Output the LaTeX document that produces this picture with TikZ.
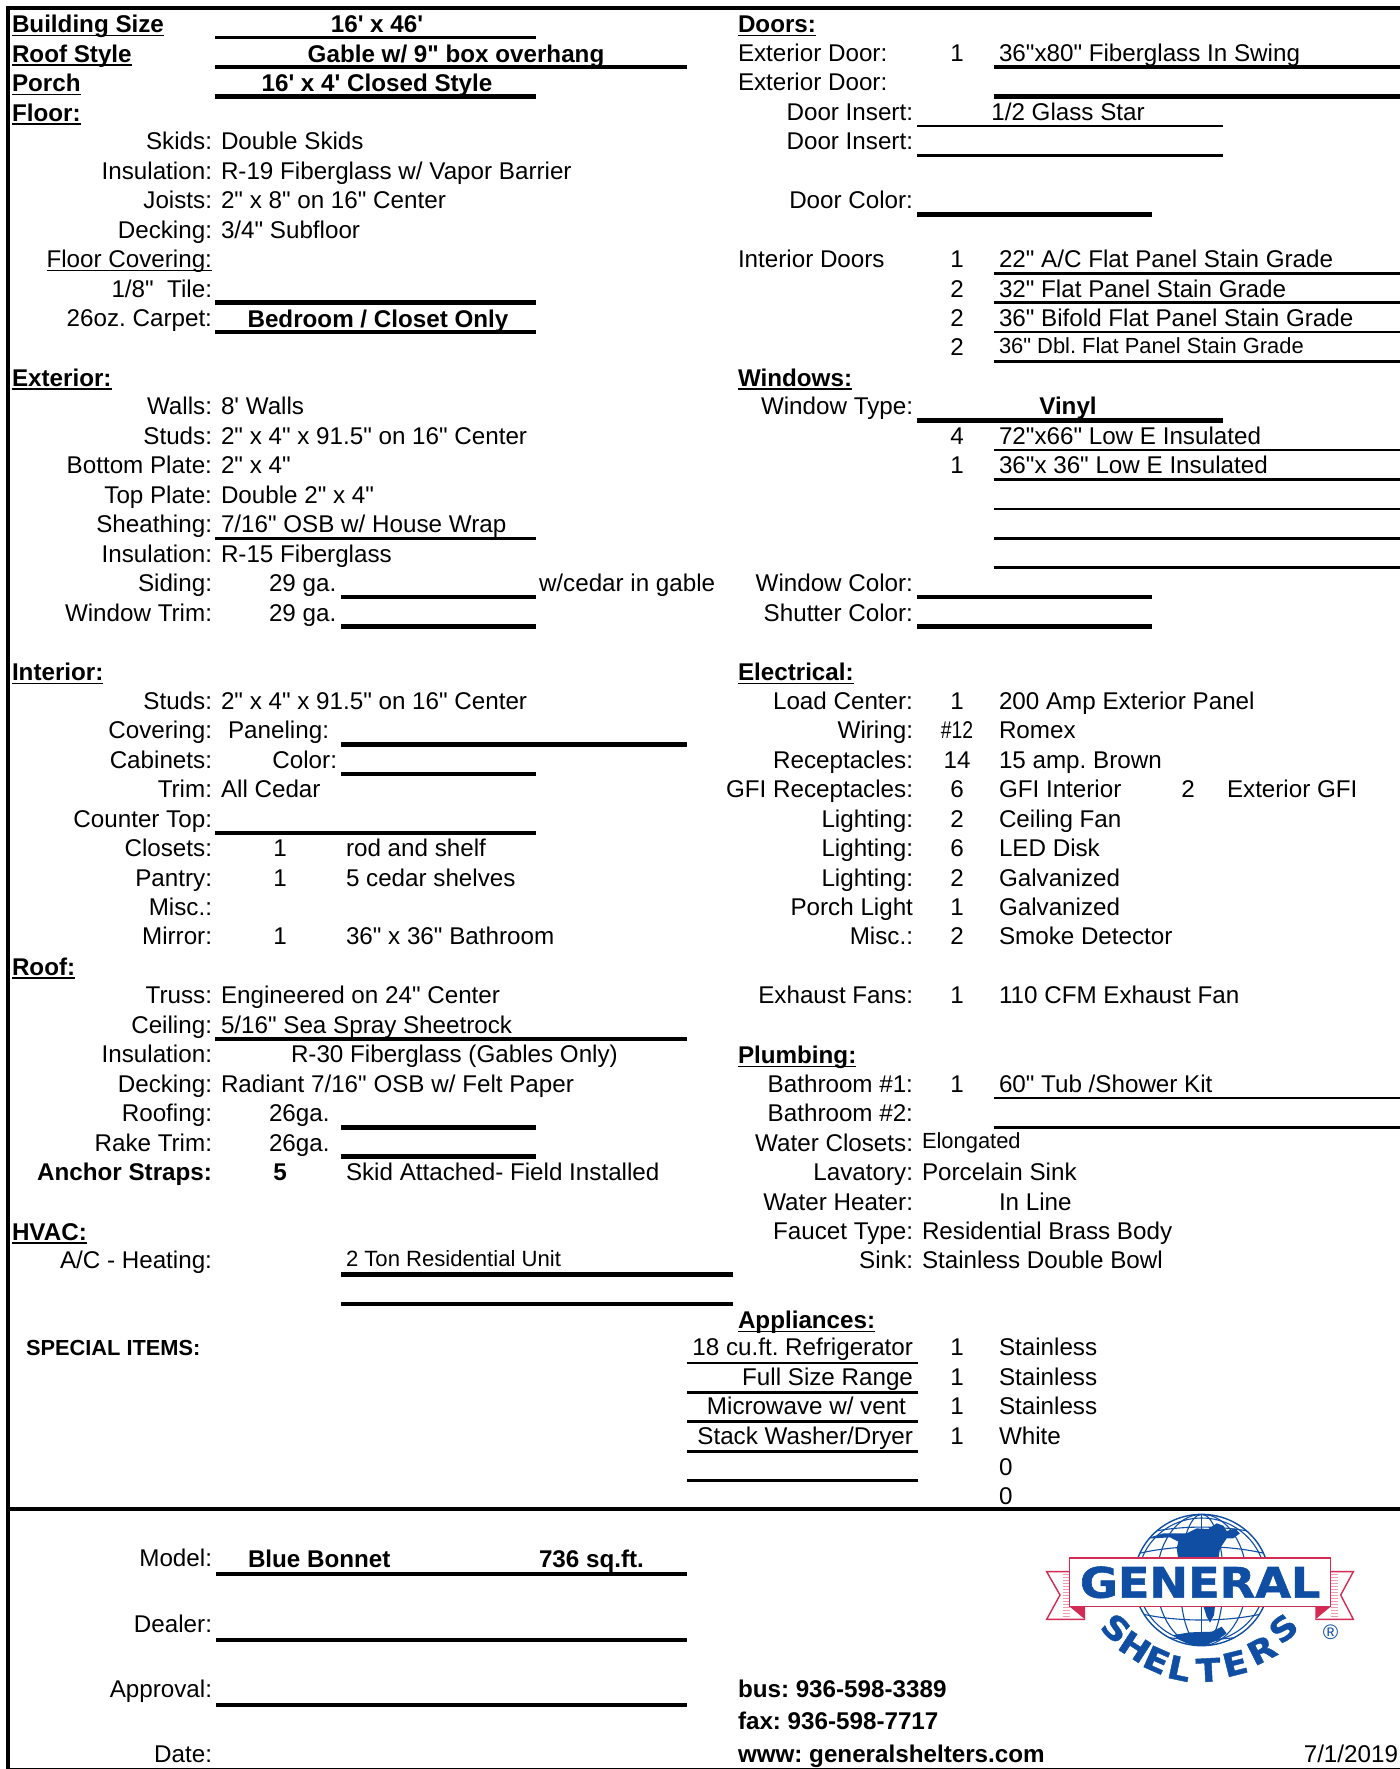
\documentclass[tikz,border=0pt]{standalone}
\usepackage{fontspec}
\usepackage{graphicx}
\newfontfamily\rf{Liberation Sans}
\newfontfamily\lf{DejaVu Sans}[BoldFeatures={FakeBold=1.3}]
\newcounter{tn}
\definecolor{gblue}{HTML}{0F4EA3}
\definecolor{gred}{HTML}{D42B55}
\definecolor{gpink}{HTML}{EE9DB0}
\newcommand\und[1]{\setbox0\hbox{#1}\rlap{\rule[-1.7pt]{\wd0}{0.75pt}}\box0}
\newcommand\Y[1]{{32.0+29.45*#1}}
\newcommand\YB[1]{{32.9+29.45*#1}}
\newcommand\LY[1]{{37.6+29.45*#1}}
% left anchored, right anchored, centred text by row
\newcommand\tL[3]{\stepcounter{tn}\node[txt,anchor=base west] (t\thetn) at (#1,\Y{#2}) {#3};}
\newcommand\tR[3]{\stepcounter{tn}\node[txt,anchor=base east] (t\thetn) at (#1,\Y{#2}) {#3};}
\newcommand\tC[3]{\stepcounter{tn}\node[txt,anchor=base] (t\thetn) at (#1,\Y{#2}) {#3};}
\newcommand\tBC[3]{\stepcounter{tn}\node[txt,anchor=base] (t\thetn) at (#1,\YB{#2}) {\bfseries #3};}
\newcommand\tS[3]{\stepcounter{tn}\node[txt,small,anchor=base west] (t\thetn) at (#1,{29.8+29.45*#2}) {#3};}
\newcommand\tA[3]{\stepcounter{tn}\node[txt,anchor=base west] (t\thetn) at (#1,#2) {#3};}
\newcommand\tB[3]{\stepcounter{tn}\node[txt,anchor=base east] (t\thetn) at (#1,#2) {#3};}
\newcommand\La[2]{\tR{212}{#1}{#2}}
\newcommand\Lb[2]{\tR{913}{#1}{#2}}
\newcommand\Lv[2]{\tL{221}{#1}{#2}}
\newcommand\Rn[2]{\tC{957}{#1}{#2}}
\newcommand\Rv[2]{\tL{999}{#1}{#2}}
\newcommand\Head[3]{\stepcounter{tn}\node[txt,anchor=base west] (t\thetn) at (#1,\YB{#2}) {\bfseries\und{#3}};}
% appliance rows sit a little higher
\newcommand\tAp[3]{\stepcounter{tn}\node[txt,anchor=#1] (t\thetn) at (#2,{30.6+29.45*45+29.45*#3}) }
\newcommand\HL[4][thickrule]{\coordinate (pa) at (#2,\LY{#4});\coordinate (pb) at (#3,\LY{#4});\draw[#1] (pa) -- (pb);}
\tikzset{txt/.style={inner sep=0pt,outer sep=0pt,font=\rf\fontsize{12.1pt}{14pt}\selectfont\frenchspacing,text=black},
 thickrule/.style={line width=2.25pt,black},
 thinrule/.style={line width=1.3pt,black},
 frame/.style={line width=2.3pt,black},
 hairframe/.style={line width=0.6pt,black},
 small/.style={font=\rf\fontsize{10.95pt}{12pt}\selectfont\frenchspacing},
 logo/.style={gblue,inner sep=0pt,font=\lf\bfseries\fontsize{16pt}{18pt}\selectfont},
 gline/.style={draw=gblue,line width=0.55pt}}
\begin{document}
\begin{tikzpicture}[x=0.5pt,y=-0.5pt]
\useasboundingbox (0,0) rectangle (1400,1769);
\fill[white] (0,0) rectangle (1400,1769);
% frame
\coordinate (fa) at (6,8);\coordinate (fb) at (1400,8);\coordinate (fc) at (8,1769);
\coordinate (fd) at (8,1509);\coordinate (fe) at (1400,1509);\coordinate (ff) at (8,6);
\coordinate (fg) at (8,1768.3);\coordinate (fh) at (1400,1768.3);
\draw[frame] (fa) -- (fb);
\draw[frame] (ff) -- (fc);
\draw[frame] (fd) -- (fe);
\draw[hairframe] (fg) -- (fh);
% rules left
\HL[thinrule]{215}{536}{0}
\HL{215}{687}{1}
\HL{215}{536}{2}
\HL{215}{536}{9}
\HL{215}{536}{10}
\HL[thinrule]{215}{536}{17}
\HL{341}{536}{19}
\HL{341}{536}{20}
\HL{341}{687}{24}
\HL{341}{536}{25}
\HL{215}{536}{27}
\HL{215}{687}{34}
\HL{341}{536}{37}
\HL{341}{536}{38}
\HL{341}{733}{42}
\HL{341}{733}{43}
% rules right
\HL{994}{1400}{1}
\HL{994}{1400}{2}
\HL[thinrule]{917}{1223}{3}
\HL[thinrule]{917}{1223}{4}
\HL{917}{1152}{6}
\HL[thinrule]{994}{1400}{8}
\HL[thinrule]{994}{1400}{9}
\HL[thinrule]{994}{1400}{10}
\HL[thinrule]{994}{1400}{11}
\HL{917}{1223}{13}
\HL[thinrule]{994}{1400}{14}
\HL[thinrule]{994}{1400}{15}
\HL[thinrule]{994}{1400}{16}
\HL[thinrule]{994}{1400}{17}
\HL[thinrule]{994}{1400}{18}
\HL{917}{1152}{19}
\HL{917}{1152}{20}
\HL[thinrule]{994}{1400}{36}
\HL[thinrule]{994}{1400}{37}
\HL[thinrule]{687}{918}{45}
\HL[thinrule]{687}{918}{46}
\HL[thinrule]{687}{918}{47}
\HL[thinrule]{687}{918}{48}
\HL[thinrule]{687}{918}{49}
% bottom rules
\coordinate (ma) at (216,1574);\coordinate (mb) at (687,1574);\draw[thickrule] (ma) -- (mb);
\coordinate (da) at (216,1640);\coordinate (db) at (687,1640);\draw[thickrule] (da) -- (db);
\coordinate (aa) at (216,1705);\coordinate (ab) at (687,1705);\draw[thickrule] (aa) -- (ab);
% left column
\Head{12}{0}{Building Size}\tBC{377}{0}{16' x 46'}
\Head{12}{1}{Roof Style}\tBC{456}{1}{Gable w/ 9" box overhang}
\Head{12}{2}{Porch}\tBC{377}{2}{16' x 4' Closed Style}
\Head{12}{3}{Floor:}
\La{4}{Skids:}\Lv{4}{Double Skids}
\La{5}{Insulation:}\Lv{5}{R-19 Fiberglass w/ Vapor Barrier}
\La{6}{Joists:}\Lv{6}{2" x 8" on 16" Center}
\La{7}{Decking:}\Lv{7}{3/4" Subfloor}
\La{8}{\und{Floor Covering:}}
\La{9}{1/8"\ \ Tile:}
\La{10}{26oz. Carpet:}\tBC{378}{10}{Bedroom / Closet Only}
\Head{12}{12}{Exterior:}
\La{13}{Walls:}\Lv{13}{8' Walls}
\La{14}{Studs:}\Lv{14}{2" x 4" x 91.5" on 16" Center}
\La{15}{Bottom Plate:}\Lv{15}{2" x 4"}
\La{16}{Top Plate:}\Lv{16}{Double 2" x 4"}
\La{17}{Sheathing:}\Lv{17}{7/16" OSB w/ House Wrap}
\La{18}{Insulation:}\Lv{18}{R-15 Fiberglass}
\La{19}{Siding:}\tL{269}{19}{29 ga.}\tL{539}{19}{w/cedar in gable}
\La{20}{Window Trim:}\tL{269}{20}{29 ga.}
\Head{12}{22}{Interior:}
\La{23}{Studs:}\Lv{23}{2" x 4" x 91.5" on 16" Center}
\La{24}{Covering:}\tR{329}{24}{Paneling:}
\La{25}{Cabinets:}\tR{337}{25}{Color:}
\La{26}{Trim:}\Lv{26}{All Cedar}
\La{27}{Counter Top:}
\La{28}{Closets:}\tC{280}{28}{1}\tL{346}{28}{rod and shelf}
\La{29}{Pantry:}\tC{280}{29}{1}\tL{346}{29}{5 cedar shelves}
\La{30}{Misc.:}
\La{31}{Mirror:}\tC{280}{31}{1}\tL{346}{31}{36" x 36" Bathroom}
\Head{12}{32}{Roof:}
\La{33}{Truss:}\Lv{33}{Engineered on 24" Center}
\La{34}{Ceiling:}\Lv{34}{5/16" Sea Spray Sheetrock}
\La{35}{Insulation:}\tL{291}{35}{R-30 Fiberglass (Gables Only)}
\La{36}{Decking:}\Lv{36}{Radiant 7/16" OSB w/ Felt Paper}
\La{37}{Roofing:}\tL{269}{37}{26ga.}
\La{38}{Rake Trim:}\tL{269}{38}{26ga.}
\La{39}{\bfseries Anchor Straps:}\tC{280}{39}{\bfseries 5}\tL{346}{39}{Skid Attached- Field Installed}
\Head{12}{41}{HVAC:}
\La{42}{A/C - Heating:}\stepcounter{tn}\node[txt,anchor=base west,font=\rf\fontsize{11.05pt}{12pt}\selectfont] (t\thetn) at (346,{29.8+29.45*42}) {2 Ton Residential Unit};
\stepcounter{tn}\node[txt,anchor=base west,font=\rf\bfseries\fontsize{10.9pt}{12pt}\selectfont] (t\thetn) at (26,{29.8+29.45*45}) {SPECIAL ITEMS:};
% right column
\Head{738}{0}{Doors:}
\tL{738}{1}{Exterior Door:}\Rn{1}{1}\Rv{1}{36"x80" Fiberglass In Swing}
\tL{738}{2}{Exterior Door:}
\Lb{3}{Door Insert:}\tC{1068}{3}{1/2 Glass Star}
\Lb{4}{Door Insert:}
\Lb{6}{Door Color:}
\tL{738}{8}{Interior Doors}\Rn{8}{1}\Rv{8}{22" A/C Flat Panel Stain Grade}
\Rn{9}{2}\Rv{9}{32" Flat Panel Stain Grade}
\Rn{10}{2}\Rv{10}{36" Bifold Flat Panel Stain Grade}
\Rn{11}{2}\tS{999}{11}{36" Dbl. Flat Panel Stain Grade}
\Head{738}{12}{Windows:}
\Lb{13}{Window Type:}\tC{1068}{13}{\bfseries Vinyl}
\Rn{14}{4}\Rv{14}{72"x66" Low E Insulated}
\Rn{15}{1}\Rv{15}{36"x 36" Low E Insulated}
\Lb{19}{Window Color:}
\Lb{20}{Shutter Color:}
\Head{738}{22}{Electrical:}
\Lb{23}{Load Center:}\Rn{23}{1}\Rv{23}{200 Amp Exterior Panel}
\Lb{24}{Wiring:}\Rn{24}{\scalebox{0.8}[1]{\#12}}\Rv{24}{Romex}
\Lb{25}{Receptacles:}\Rn{25}{14}\Rv{25}{15 amp. Brown}
\Lb{26}{GFI Receptacles:}\Rn{26}{6}\Rv{26}{GFI Interior}\tC{1188}{26}{2}\tL{1227}{26}{Exterior GFI}
\Lb{27}{Lighting:}\Rn{27}{2}\Rv{27}{Ceiling Fan}
\Lb{28}{Lighting:}\Rn{28}{6}\Rv{28}{LED Disk}
\Lb{29}{Lighting:}\Rn{29}{2}\Rv{29}{Galvanized}
\Lb{30}{Porch Light}\Rn{30}{1}\Rv{30}{Galvanized}
\Lb{31}{Misc.:}\Rn{31}{2}\Rv{31}{Smoke Detector}
\Lb{33}{Exhaust Fans:}\Rn{33}{1}\Rv{33}{110 CFM Exhaust Fan}
\Head{738}{35}{Plumbing:}
\Lb{36}{Bathroom \#1:}\Rn{36}{1}\Rv{36}{60" Tub /Shower Kit}
\Lb{37}{Bathroom \#2:}
\Lb{38}{Water Closets:}\tS{922}{38}{Elongated}
\Lb{39}{Lavatory:}\tL{922}{39}{Porcelain Sink}
\Lb{40}{Water Heater:}\Rv{40}{In Line}
\Lb{41}{Faucet Type:}\tL{922}{41}{Residential Brass Body}
\Lb{42}{Sink:}\tL{922}{42}{Stainless Double Bowl}
\Head{738}{44}{Appliances:}
\tAp{base east}{913}{0}{18 cu.ft. Refrigerator};\tAp{base}{957}{0}{1};\tAp{base west}{999}{0}{Stainless};
\tAp{base east}{913}{1}{Full Size Range};\tAp{base}{957}{1}{1};\tAp{base west}{999}{1}{Stainless};
\tAp{base east}{906}{2}{Microwave w/ vent};\tAp{base}{957}{2}{1};\tAp{base west}{999}{2}{Stainless};
\tAp{base east}{913}{3}{Stack Washer/Dryer};\tAp{base}{957}{3}{1};\tAp{base west}{999}{3}{White};
\Rv{49}{0}
\Rv{50}{0}
% bottom block
\tB{212}{1566}{Model:}
\tA{248}{1567}{\bfseries Blue Bonnet}
\tA{539}{1567}{\bfseries 736 sq.ft.}
\tB{212}{1632}{Dealer:}
\tB{212}{1697}{Approval:}
\tB{212}{1762}{Date:}
\tA{738}{1697}{\bfseries bus: 936-598-3389}
\tA{738}{1729}{\bfseries fax: 936-598-7717}
\tA{738}{1762}{\bfseries www: generalshelters.com}
\tB{1398}{1762}{7/1/2019}
% logo, in a local frame of 3 units per pixel
\begin{scope}[shift={(1020,1500)},x=0.16667pt,y=-0.16667pt]
 % ribbons
 \foreach \yy in {222,231,...,350}{
  \draw[gpink,line width=0.45pt] (128,\yy) -- (149,\yy);
  \draw[gpink,line width=0.45pt] (932,\yy) -- (954,\yy);}
 \draw[gred,line width=0.7pt] (149,215) -- (80,215) -- (120,285) -- (80,358) -- (195,358);
 \draw[gred,line width=0.7pt] (932,215) -- (1000,215) -- (962,285) -- (1000,358) -- (886,358);
 \fill[gred] (149,320) -- (195,320) -- (195,358) -- cycle;
 \fill[gred] (932,320) -- (886,320) -- (886,358) -- cycle;
 % globe
 \begin{scope}
  \clip (545,240) ellipse (203 and 197);
  \draw[gline] (545,240) ellipse (65 and 197);
  \draw[gline] (545,240) ellipse (135 and 197);
  \draw[gline] (545,43) -- (545,438);
  \foreach \a/\b in {170/-40,115/-45,330/40,385/45}{
   \draw[gline] (320,\a) .. controls (450,{\a+\b}) and (640,{\a+\b}) .. (770,\a);}
  \fill[gblue] (380,115) -- (430,100) -- (465,100) -- (500,100) -- (530,85) -- (565,87) -- (590,70) -- (610,77) -- (620,93) -- (645,85) -- (660,100) -- (640,115) -- (620,115) -- (600,145) -- (595,178) -- (475,178) -- (470,145) -- (475,125) -- (450,112) -- (400,115) -- cycle;
  \fill[gblue] (550,318) -- (585,318) -- (582,345) -- (570,368) -- (560,350) -- cycle;
  \fill[gblue] (460,405) -- (510,397) -- (575,395) -- (605,380) -- (620,400) -- (595,418) -- (550,440) -- (500,430) -- (475,418) -- cycle;
 \end{scope}
 \draw[gline,line width=0.7pt] (545,240) ellipse (203 and 197);
 \draw[gline] (545,240) ellipse (191 and 186);
 % banner
 \node[draw=gred,line width=0.8pt,fill=white,minimum width=130.5pt,minimum height=24.3pt,inner sep=0pt] (banner) at (540.5,247) {};
 \node[logo,font=\lf\bfseries\fontsize{21pt}{24pt}\selectfont] (general) at (banner.center) {\scalebox{1.1}[1]{GENERAL}};
 \node[logo,rotate=-42] (s1) at (288,385) {\scalebox{1.12}[1]{S}};
 \node[logo,rotate=-33] (s2) at (345,440) {\scalebox{1.12}[1]{H}};
 \node[logo,rotate=-24] (s3) at (410,480) {\scalebox{1.12}[1]{E}};
 \node[logo,rotate=-12] (s4) at (478,505) {\scalebox{1.12}[1]{L}};
 \node[logo,rotate=3] (s5) at (565,510) {\scalebox{1.12}[1]{T}};
 \node[logo,rotate=14] (s6) at (645,490) {\scalebox{1.12}[1]{E}};
 \node[logo,rotate=27] (s7) at (725,450) {\scalebox{1.12}[1]{R}};
 \node[logo,rotate=40] (s8) at (790,385) {\scalebox{1.12}[1]{S}};
 \node[logo,font=\rf\fontsize{10.5pt}{12pt}\selectfont] (reg) at (932,397) {®};
\end{scope}
\end{tikzpicture}
\end{document}
